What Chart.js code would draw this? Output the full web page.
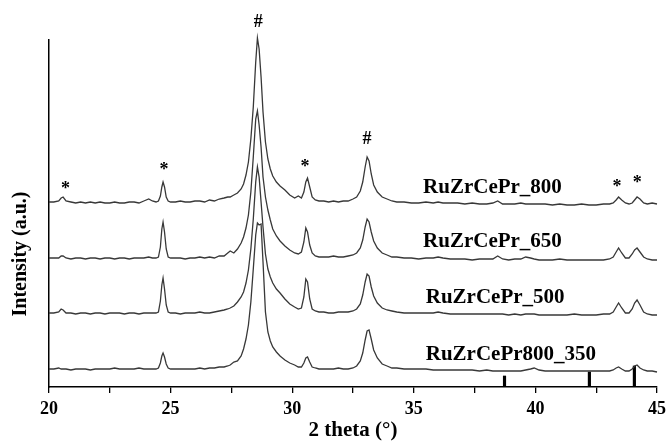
<!DOCTYPE html>
<html>
<head>
<meta charset="utf-8">
<script src="https://cdn.jsdelivr.net/npm/chart.js@4"></script>
<style>
  html, body { margin: 0; padding: 0; background: #fff; }
  #wrap { width: 667px; height: 443px; }
</style>
</head>
<body>
<div id="wrap"><canvas id="xrd"></canvas></div>
<script>
// 2 theta (deg) sampling, shared by the four patterns
const twoTheta = [
  20.0, 20.2, 20.4, 20.5, 20.58, 20.7, 20.9, 21.1, 21.3, 21.5, 21.7, 21.9, 22.1, 22.3, 22.5, 22.7, 22.9, 23.1, 23.3, 23.5, 23.7, 23.9, 24.1, 24.25, 24.4,
  24.5, 24.58, 24.64, 24.69, 24.75, 24.82, 24.9, 25.0,
  25.2, 25.4, 25.6, 25.8, 26.0, 26.2, 26.4, 26.6, 26.8, 27.0, 27.2,
  27.35, 27.45, 27.6, 27.75, 27.9, 28.0, 28.1, 28.2, 28.3, 28.4, 28.5, 28.57, 28.64, 28.72, 28.8, 28.9, 29.0, 29.1, 29.2, 29.35, 29.5, 29.7, 29.9, 30.1,
  30.25, 30.38, 30.48, 30.56, 30.63, 30.72, 30.82, 30.95, 31.1,
  31.3, 31.5, 31.7, 31.9, 32.1, 32.3, 32.5,
  32.65, 32.8, 32.9, 33.0, 33.08, 33.16, 33.25, 33.35, 33.5, 33.7, 33.9, 34.1,
  34.3, 34.6, 34.9, 35.2, 35.5, 35.8, 36.0, 36.2, 36.5, 36.8, 37.1, 37.4, 37.7, 38.0, 38.25, 38.45, 38.65, 38.9, 39.15, 39.4, 39.6, 39.8, 39.95, 40.15, 40.4, 40.7, 41.0, 41.3, 41.6, 41.9, 42.2, 42.5, 42.8, 43.05,
  43.2, 43.32, 43.42, 43.55, 43.7, 43.85, 43.98, 44.08, 44.18, 44.3, 44.45, 44.6, 44.8, 45.0
];

// intensities (a.u., already stacked with offsets)
const ruZrCePr800 = [
  185, 185, 186, 189, 190, 186, 185, 184, 185, 184, 185, 184, 185, 184, 184, 185, 184, 184, 185, 185, 184, 186, 188, 186, 185,
  186, 191, 200, 205, 200, 190, 186, 185,
  185, 186, 185, 185, 186, 186, 185, 187, 186, 188, 189,
  190, 190, 192, 194, 198, 203, 212, 225, 248, 280, 325, 349, 338, 310, 275, 245, 228, 218, 211, 205, 201, 197, 192, 189,
  191, 189, 195, 205, 209, 200, 190, 187, 186,
  186, 185, 186, 185, 186, 186, 188,
  190, 196, 205, 220, 230, 226, 213, 202, 195, 190, 188, 186,
  185, 185, 184, 184, 185, 184, 185, 184, 184, 184, 183, 184, 183, 183, 184, 186, 183, 183, 183, 184, 183, 183, 183, 183, 183, 182, 183, 182, 182, 183, 182, 182, 183, 183,
  184, 187, 190, 187, 184, 183, 184, 187, 190, 188, 184, 183, 184, 183
];
const ruZrCePr650 = [
  129, 129, 129, 131, 131, 129, 128, 129, 129, 128, 129, 129, 128, 129, 129, 128, 129, 129, 128, 129, 129, 129, 130, 129, 129,
  130, 140, 158, 165, 155, 138, 130, 129,
  129, 129, 128, 129, 129, 130, 129, 130, 129, 131, 131,
  134, 136, 134, 138, 144, 150, 159, 172, 195, 230, 268, 276, 262, 240, 210, 190, 177, 167, 158, 151, 146, 141, 137, 134,
  133, 135, 145, 159, 155, 142, 134, 131, 130,
  130, 130, 131, 130, 130, 131, 132,
  134, 139, 147, 160, 168, 165, 155, 146, 139, 134, 132, 130,
  130, 129, 129, 128, 129, 129, 130, 129, 128, 128, 128, 127, 128, 128, 128, 131, 128, 127, 128, 128, 130, 129, 128, 127, 127, 127, 128, 127, 127, 127, 127, 127, 127, 128,
  130, 135, 139, 134, 129, 129, 133, 137, 139, 135, 130, 128, 127, 127
];
const ruZrCePr500 = [
  74, 74, 75, 78, 77, 74, 74, 73, 74, 74, 73, 74, 74, 73, 74, 74, 74, 73, 74, 74, 73, 74, 74, 74, 74,
  75, 86, 102, 109, 98, 82, 75, 74,
  74, 73, 74, 74, 74, 75, 74, 74, 75, 76, 77,
  78, 79, 81, 85, 90, 95, 104, 117, 138, 168, 205, 220, 210, 185, 160, 133, 118, 110, 104, 98, 94, 88, 83, 80,
  78, 79, 90, 108, 105, 88, 78, 76, 75,
  75, 74, 74, 75, 75, 75, 76,
  78, 83, 92, 105, 113, 111, 100, 91, 84, 79, 77, 76,
  75, 74, 74, 74, 74, 74, 75, 74, 73, 73, 73, 73, 73, 73, 73, 73, 73, 72, 73, 72, 73, 73, 73, 72, 72, 72, 72, 72, 73, 72, 72, 72, 73, 73,
  75, 80, 84, 79, 74, 74, 78, 84, 87, 82, 75, 73, 72, 72
];
const ruZrCePr800_350 = [
  18, 18, 19, 18, 18, 18, 17, 18, 18, 18, 17, 18, 18, 18, 18, 19, 18, 18, 18, 18, 19, 18, 18, 18, 18,
  19, 24, 31, 34, 30, 23, 19, 18,
  18, 18, 18, 18, 18, 19, 18, 19, 19, 20, 20,
  21, 22, 25, 26, 31, 38, 48, 62, 85, 118, 152, 164, 162, 163, 125, 75, 55, 46, 40, 35, 31, 27, 24, 22,
  20, 20, 24, 29, 30, 25, 20, 19, 18,
  18, 18, 18, 19, 18, 18, 19,
  21, 26, 34, 47, 56, 57, 48, 37, 29, 23, 21, 19,
  19, 18, 18, 18, 18, 17, 17, 17, 17, 17, 17, 17, 16, 17, 16, 16, 16, 16, 16, 16, 17, 18, 19, 17, 16, 16, 16, 16, 16, 16, 16, 16, 16, 16,
  17, 19, 20, 18, 16, 16, 18, 21, 22, 19, 17, 16, 16, 15
];

// reference pattern sticks
const refPositions = [38.73, 42.22, 44.07];
const refHeights = [11, 15, 21];

const sampleNames = ['RuZrCePr_800', 'RuZrCePr_650', 'RuZrCePr_500', 'RuZrCePr800_350'];
const sampleSeries = [ruZrCePr800, ruZrCePr650, ruZrCePr500, ruZrCePr800_350];
// where each name sits (2theta, intensity of the text baseline)
const nameAnchors = [[35.38, 194], [35.38, 140], [35.49, 84], [35.49, 27]];

// peak markers: text, 2theta, intensity of text baseline
const peakMarks = [
  ['#', 28.6, 360], ['#', 33.08, 243],
  ['*', 20.68, 193], ['*', 24.73, 212], ['*', 30.53, 215], ['*', 43.36, 195], ['*', 44.19, 199]
];

const serif = "'Liberation Serif', 'Times New Roman', serif";

const textLayer = {
  id: 'textLayer',
  afterDatasetsDraw(chart) {
    const { ctx, scales: { x, y } } = chart;
    ctx.save();
    ctx.fillStyle = '#000';
    ctx.textBaseline = 'alphabetic';

    ctx.font = `bold 21px ${serif}`;
    ctx.textAlign = 'left';
    sampleNames.forEach((name, i) => {
      ctx.fillText(name, x.getPixelForValue(nameAnchors[i][0]), y.getPixelForValue(nameAnchors[i][1]));
    });

    ctx.font = `bold 18px ${serif}`;
    ctx.textAlign = 'center';
    peakMarks.forEach(([t, px, py]) => {
      ctx.fillText(t, x.getPixelForValue(px), y.getPixelForValue(py));
    });

    // y axis title, drawn by hand so it can sit where the original has it
    ctx.translate(21, 254);
    ctx.rotate(-Math.PI / 2);
    ctx.font = `bold 20px ${serif}`;
    ctx.textBaseline = 'middle';
    ctx.fillText('Intensity (a.u.)', 0, 0);
    ctx.restore();
  }
};

const lineStyle = {
  type: 'line',
  borderColor: '#383838',
  borderWidth: 1.3,
  pointRadius: 0,
  fill: false,
  tension: 0,
  clip: false
};

const datasets = sampleSeries.map((s, k) => ({
  ...lineStyle,
  label: sampleNames[k],
  data: twoTheta.map((t, i) => ({ x: t, y: s[i] }))
}));
datasets.push({
  type: 'bar',
  label: 'reference',
  data: refPositions.map((t, i) => ({ x: t, y: refHeights[i] })),
  backgroundColor: '#000',
  barThickness: 2.5
});

new Chart(document.getElementById('xrd').getContext('2d'), {
  type: 'line',
  data: { datasets },
  plugins: [textLayer],
  options: {
    responsive: true,
    maintainAspectRatio: false,
    animation: false,
    layout: { padding: { left: 49, right: 10, top: 40, bottom: 0 } },
    plugins: { legend: { display: false }, tooltip: { enabled: false } },
    scales: {
      x: {
        type: 'linear',
        min: 20,
        max: 45,
        offset: false,
        ticks: {
          stepSize: 2.5,
          autoSkip: false,
          maxRotation: 0,
          padding: 6,
          color: '#000',
          font: { family: serif, size: 18, weight: 'bold' },
          callback: (v) => (v % 5 === 0 ? String(v) : '')
        },
        grid: { offset: false, drawOnChartArea: false, drawTicks: true, tickLength: 6, color: '#000', lineWidth: 1.3 },
        border: { color: '#000', width: 1.5 },
        title: {
          display: true,
          text: '2 theta (°)',
          color: '#000',
          font: { family: serif, size: 21, weight: 'bold' },
          padding: { top: 0, bottom: 0 }
        },
        afterFit: (s) => { s.height = 56; s.paddingLeft = 0; s.paddingRight = 0; }
      },
      y: {
        min: 0,
        max: 347,
        ticks: { display: false },
        grid: { display: false },
        border: { display: true, color: '#000', width: 1.5 },
        afterFit: (s) => { s.width = 0; }
      }
    }
  }
});
</script>
</body>
</html>
